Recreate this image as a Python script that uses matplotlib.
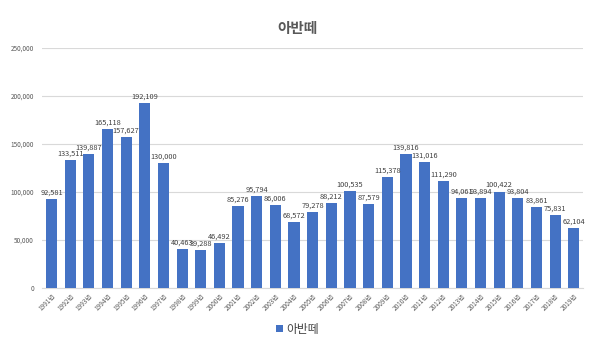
import matplotlib
matplotlib.use("Agg")
import matplotlib.pyplot as plt
from matplotlib.ticker import FuncFormatter

plt.rcParams['font.family'] = ['Noto Sans CJK KR', 'DejaVu Sans']

years = [f"{y}년" for y in range(1991, 2020)]
sales = [92581, 133511, 139887, 165118, 157627, 192109, 130000, 40463, 39288,
         46492, 85276, 95794, 86006, 68572, 79278, 88212, 100535, 87579,
         115378, 139816, 131016, 111290, 94061, 93894, 100422, 93804, 83861,
         75831, 62104]
yticks = [0, 50000, 100000, 150000, 200000, 250000]

bar_color = "#4472C4"
text_color = "#595959"

fig = plt.figure(figsize=(5.95, 3.55), dpi=100)
ax = fig.add_axes([0.071, 0.189, 0.909, 0.676])

x = range(len(years))
bars = ax.bar(x, sales, width=0.6, color=bar_color, label="아반떼", zorder=3)

# 막대 위 값 표시
for xi, v in zip(x, sales):
    ax.text(xi, v + 2500, f"{v:,}", ha="center", va="bottom",
            fontsize=5.3, color="#404040")

ax.set_xlim(-0.5, len(years) - 0.5)
ax.set_ylim(0, 250000)
ax.set_yticks(yticks)
ax.yaxis.set_major_formatter(FuncFormatter(lambda v, p: f"{int(v):,}"))
ax.grid(axis="y", color="#D9D9D9", linewidth=0.8, zorder=0)
ax.set_xticks(list(x))
ax.set_xticklabels(years, rotation=45, ha="right", rotation_mode="anchor",
                   fontsize=4.6, color=text_color)
ax.tick_params(axis="y", labelsize=4.6, colors=text_color, length=0, pad=6)
ax.tick_params(axis="x", length=0, pad=3)
for s in ["top", "right", "left"]:
    ax.spines[s].set_visible(False)
ax.spines["bottom"].set_color("#D9D9D9")

fig.text(0.5, 0.922, "아반떼", ha="center", va="center", fontsize=10.5,
         color=text_color, fontweight="bold")

fig.legend(handles=[bars], labels=["아반떼"], loc="center",
           bbox_to_anchor=(0.5, 0.073), frameon=False, fontsize=8.5,
           handlelength=0.6, handleheight=0.6, handletextpad=0.3,
           labelcolor="#404040")

fig.savefig("out.png", dpi=100, facecolor="white")
